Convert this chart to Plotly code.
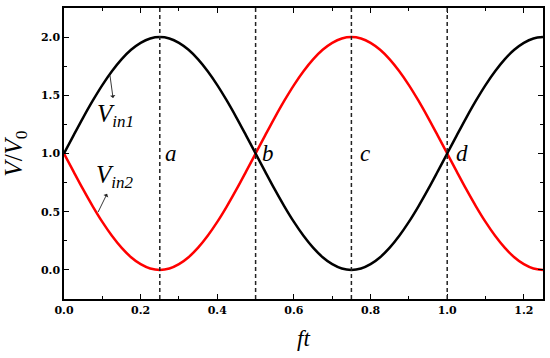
import plotly.graph_objects as go

ft = [0.0, 0.025, 0.05, 0.075, 0.1, 0.125, 0.15, 0.175, 0.2, 0.225,
      0.25, 0.275, 0.3, 0.325, 0.35, 0.375, 0.4, 0.425, 0.45, 0.475,
      0.5, 0.525, 0.55, 0.575, 0.6, 0.625, 0.65, 0.675, 0.7, 0.725,
      0.75, 0.775, 0.8, 0.825, 0.85, 0.875, 0.9, 0.925, 0.95, 0.975,
      1.0, 1.025, 1.05, 1.075, 1.1, 1.125, 1.15, 1.175, 1.2, 1.225, 1.25]

v_in1 = [1.000, 1.156, 1.309, 1.454, 1.588, 1.707, 1.809, 1.891, 1.951, 1.988,
         2.000, 1.988, 1.951, 1.891, 1.809, 1.707, 1.588, 1.454, 1.309, 1.156,
         1.000, 0.844, 0.691, 0.546, 0.412, 0.293, 0.191, 0.109, 0.049, 0.012,
         0.000, 0.012, 0.049, 0.109, 0.191, 0.293, 0.412, 0.546, 0.691, 0.844,
         1.000, 1.156, 1.309, 1.454, 1.588, 1.707, 1.809, 1.891, 1.951, 1.988, 2.000]

v_in2 = [1.000, 0.844, 0.691, 0.546, 0.412, 0.293, 0.191, 0.109, 0.049, 0.012,
         0.000, 0.012, 0.049, 0.109, 0.191, 0.293, 0.412, 0.546, 0.691, 0.844,
         1.000, 1.156, 1.309, 1.454, 1.588, 1.707, 1.809, 1.891, 1.951, 1.988,
         2.000, 1.988, 1.951, 1.891, 1.809, 1.707, 1.588, 1.454, 1.309, 1.156,
         1.000, 0.844, 0.691, 0.546, 0.412, 0.293, 0.191, 0.109, 0.049, 0.012, 0.000]

marker_x = [0.25, 0.5, 0.75, 1.0]
marker_labels = ["a", "b", "c", "d"]
label_x = [0.279, 0.532, 0.785, 1.039]
label_y = 1.0

x_ticks = [0.0, 0.2, 0.4, 0.6, 0.8, 1.0, 1.2]
y_ticks = [0.0, 0.5, 1.0, 1.5, 2.0]

fig = go.Figure()
fig.add_trace(go.Scatter(x=ft, y=v_in2, mode="lines", line=dict(color="#ff0000", width=2.5, shape="spline"), showlegend=False))
fig.add_trace(go.Scatter(x=ft, y=v_in1, mode="lines", line=dict(color="#000000", width=2.5, shape="spline"), showlegend=False))

for xv in marker_x:
    fig.add_vline(x=xv, line=dict(color="#222222", width=1.5, dash="4px,3px"))

tfont = dict(family="Liberation Serif", size=23, color="black")
for lx, lab in zip(label_x, marker_labels):
    fig.add_annotation(x=lx, y=label_y, text="<i>%s</i>" % lab, showarrow=False, font=tfont)

sub = '<sub><span style="font-size:17px">%s</span></sub>'
fig.add_annotation(x=0.120, y=1.671, ax=0.134, ay=1.33, axref="x", ayref="y", xref="x", yref="y",
                   text="<i>V" + sub % "in1" + "</i>", font=dict(family="Liberation Serif", size=25, color="black"),
                   showarrow=True, arrowside="start", arrowhead=2, arrowsize=2.6, arrowwidth=0.9, arrowcolor="#222222")
fig.add_annotation(x=0.089, y=0.497, ax=0.134, ay=0.80, axref="x", ayref="y", xref="x", yref="y",
                   text="<i>V" + sub % "in2" + "</i>", font=dict(family="Liberation Serif", size=25, color="black"),
                   showarrow=True, arrowside="start", arrowhead=2, arrowsize=2.6, arrowwidth=0.9, arrowcolor="#222222")

axis_common = dict(showline=True, linecolor="black", linewidth=1.5, mirror="ticks",
                   ticks="inside", ticklen=5, tickwidth=1.2, tickcolor="black",
                   showgrid=False, zeroline=False,
                   tickfont=dict(family="DejaVu Serif", size=11, color="black", weight="bold"))

fig.update_xaxes(range=[0, 1.25], tickvals=x_ticks, ticktext=["%.1f" % v for v in x_ticks],
                 minor=dict(ticks="inside", ticklen=3, tickcolor="black", dtick=0.1, tick0=0),
                 title=dict(text="<i>ft</i>", font=dict(family="Liberation Serif", size=23, color="black"), standoff=14),
                 **axis_common)
fig.update_yaxes(range=[-0.25, 2.25], tickvals=y_ticks, ticktext=["%.1f" % v for v in y_ticks],
                 minor=dict(ticks="inside", ticklen=3, tickcolor="black", dtick=0.25, tick0=0),
                 title=dict(text="<i>V</i>/<i>V</i><sub>0</sub>", font=dict(family="Liberation Serif", size=25, color="black"), standoff=28),
                 **axis_common)

fig.update_layout(width=550, height=358, margin=dict(l=64, r=7, t=8, b=59, autoexpand=False),
                  plot_bgcolor="white", paper_bgcolor="white")

# remove the default 8px page margin so the figure sits at the window's corner
fig.write_html("out.html", config={"displayModeBar": False},
               post_script="document.body.style.margin='0';")
